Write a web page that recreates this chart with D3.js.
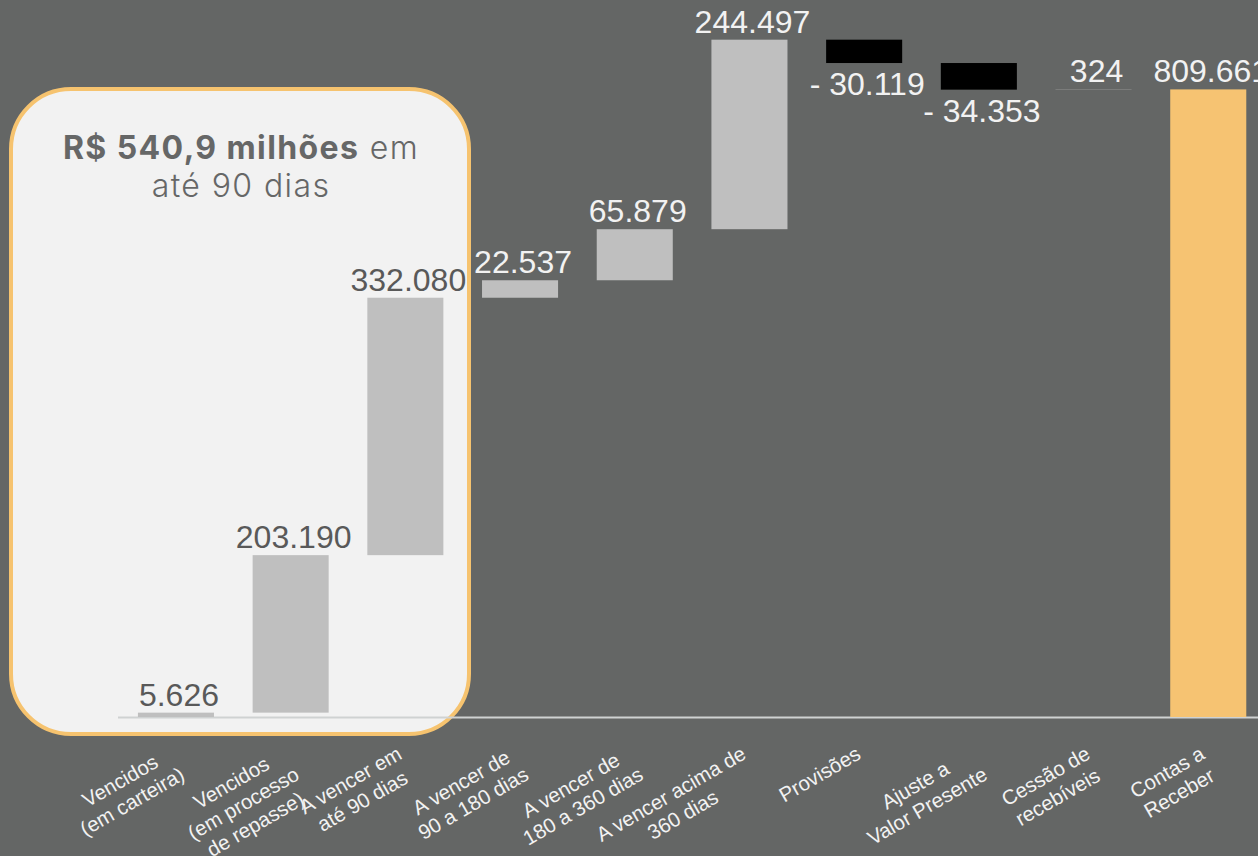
<!DOCTYPE html>
<html lang="pt-BR">
<head>
<meta charset="utf-8">
<script src="https://cdn.jsdelivr.net/npm/d3@7"></script>
<style>
  html, body { margin: 0; padding: 0; background: #646665; overflow: hidden; }
  svg { display: block; }
</style>
</head>
<body>
<svg id="chart" width="1258" height="856"></svg>
<script>
// Composição das contas a receber (R$ mil)
const categories = [
  ["Vencidos", "(em carteira)"],
  ["Vencidos", "(em processo", "de repasse)"],
  ["A vencer em", "até 90 dias"],
  ["A vencer de", "90 a 180 dias"],
  ["A vencer de", "180 a 360 dias"],
  ["A vencer acima de", "360 dias"],
  ["Provisões"],
  ["Ajuste a", "Valor Presente"],
  ["Cessão de", "recebíveis"],
  ["Contas a", "Receber"]
];
// variações (a última categoria é o total)
const deltas = [5626, 203190, 332080, 22537, 65879, 244497, -30119, -34353, 324];
const total = 809661;
const highlightTitleBold = "R$ 540,9 milhões";
const highlightTitleRest = " em";
const highlightSubtitle = "até 90 dias";

const W = 1258, H = 856;
const svg = d3.select("#chart");

const colors = {
  bg: "#646665",
  up: "#bfbfbf",
  down: "#000000",
  total: "#f6c372",
  boxFill: "#f2f2f2",
  boxStroke: "#f6c36f",
  darkText: "#595959",
  lightText: "#f2f2f2",
  axisLine: "#cfd2d2"
};

// Monta as barras em cascata
let run = 0;
const bars = deltas.map((v, i) => {
  const start = run;
  run += v;
  return { i, value: v, start, end: run, kind: v >= 0 ? "up" : "down" };
});
bars.push({ i: deltas.length, value: total, start: 0, end: total, kind: "total" });

const baseY = 717;
const x = d3.scaleBand()
  .domain(d3.range(categories.length))
  .range([118.6, 1265.6])
  .paddingInner(0.337)
  .paddingOuter(0.1685);
const y = d3.scaleLinear().domain([0, 925000]).range([baseY, 0]);

const loc = d3.formatLocale({ decimal: ",", thousands: ".", grouping: [3], currency: ["R$ ", ""] });
const fmt = loc.format(",d");
const labelText = d => d.value < 0 ? "- " + fmt(-d.value) : fmt(d.value);

svg.append("rect").attr("width", W).attr("height", H).attr("fill", colors.bg);

// Caixa de destaque (vencimentos até 90 dias)
svg.append("rect")
  .attr("x", 11).attr("y", 89)
  .attr("width", 458).attr("height", 645)
  .attr("rx", 60).attr("ry", 60)
  .attr("fill", colors.boxFill)
  .attr("stroke", colors.boxStroke)
  .attr("stroke-width", 4);

const titleFont = "Inter, 'Open Sans', sans-serif";
const title = svg.append("text")
  .attr("x", 241).attr("y", 159)
  .attr("text-anchor", "middle")
  .attr("font-family", titleFont)
  .attr("font-size", 32)
  .attr("letter-spacing", 1.4)
  .attr("fill", "#666767");
title.append("tspan").attr("font-weight", 700).text(highlightTitleBold);
title.append("tspan").attr("font-weight", 300).text(highlightTitleRest);

svg.append("text")
  .attr("x", 241).attr("y", 197)
  .attr("text-anchor", "middle")
  .attr("font-family", titleFont)
  .attr("font-size", 32)
  .attr("letter-spacing", 1.4)
  .attr("font-weight", 300)
  .attr("fill", "#666767")
  .text(highlightSubtitle);

// Linha de base
svg.append("line")
  .attr("x1", 118).attr("x2", W)
  .attr("y1", baseY + 0.5).attr("y2", baseY + 0.5)
  .attr("stroke", colors.axisLine)
  .attr("stroke-width", 2);

// Barras
svg.append("g").selectAll("rect")
  .data(bars)
  .join("rect")
  .attr("x", d => x(d.i))
  .attr("width", x.bandwidth())
  .attr("y", d => y(Math.max(d.start, d.end)))
  .attr("height", d => Math.abs(y(d.start) - y(d.end)))
  .attr("fill", d => colors[d.kind]);

// Rótulos de valor
const inBox = i => i <= 2;
svg.append("g").selectAll("text")
  .data(bars)
  .join("text")
  .attr("x", d => x(d.i) + x.bandwidth() / 2 + 3)
  .attr("y", d => d.kind === "down"
    ? y(Math.min(d.start, d.end)) + 32
    : y(Math.max(d.start, d.end)) - 7)
  .attr("text-anchor", "middle")
  .attr("font-family", "'Liberation Sans', Arial, sans-serif")
  .attr("font-size", 32)
  .attr("fill", d => inBox(d.i) ? colors.darkText : colors.lightText)
  .text(labelText);

// Eixo de categorias com rótulos inclinados
const axis = svg.append("g")
  .attr("transform", `translate(0,${baseY})`)
  .call(d3.axisBottom(x).tickSize(0).tickFormat(""));
axis.select(".domain").remove();

const fontSize = 20.5, lineH = 24, angle = -30;
axis.selectAll(".tick").each(function (i) {
  const tick = d3.select(this);
  tick.select("text").remove();
  const lines = categories[i];
  const g = tick.append("g")
    .attr("transform", `translate(-10,27) rotate(${angle})`);
  const texts = g.selectAll("text")
    .data(lines)
    .join("text")
    .attr("font-family", "'Liberation Sans', Arial, sans-serif")
    .attr("font-size", fontSize)
    .attr("fill", colors.lightText)
    .attr("text-anchor", "middle")
    .attr("y", (d, k) => 16 + k * lineH)
    .text(d => d);
  let wMax = 0;
  texts.each(function () { wMax = Math.max(wMax, this.getComputedTextLength()); });
  texts.attr("x", -wMax / 2);
});
</script>
</body>
</html>
